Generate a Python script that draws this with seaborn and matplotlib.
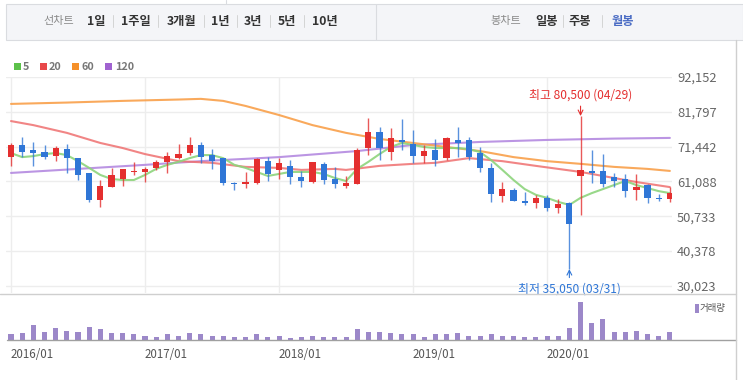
import numpy as np
import pandas as pd
import matplotlib
matplotlib.use("Agg")
import matplotlib.pyplot as plt
from matplotlib.patches import Rectangle
from matplotlib.lines import Line2D
import seaborn as sns

sns.set_style("white")
plt.rcParams["font.family"] = ["Noto Sans CJK KR", "DejaVu Sans"]

# monthly candles, 2016/01 .. 2020/12 (index 0 .. 59)
opens = [68300, 71900, 70400, 69800, 68600, 70700, 68000, 63600, 55600, 59400, 61800, 63900,
         63900, 65100, 66900, 68000, 69500, 71900, 68900, 68000, 60600, 60300, 60600, 67100,
         64500, 65700, 62400, 60900, 66300, 61800, 59700, 60300, 71000, 75800, 69800, 73400,
         72200, 68600, 70400, 68000, 73400, 73400, 69500, 65100, 56800, 58500, 55300, 54700,
         56200, 53200, 54700, 62700, 64200, 64200, 62400, 61800, 58500, 60000, 56200, 55900]
highs = [72500, 74300, 72800, 71900, 71600, 72200, 68000, 63600, 61500, 65100, 64800, 66900,
         65400, 67400, 69800, 72200, 74300, 72800, 70700, 68000, 60900, 63900, 68000, 68300,
         68000, 67400, 64200, 66900, 66900, 65400, 62700, 71000, 79900, 77200, 76900, 79600,
         76400, 71900, 73700, 74300, 77200, 74300, 71300, 66600, 60900, 59100, 57900, 57100,
         57100, 55900, 55000, 80500, 70400, 69200, 63600, 63300, 63300, 60300, 57300, 59400]
lows = [65700, 68300, 65700, 67700, 67100, 63600, 61500, 55000, 53500, 59400, 59700, 63000,
        60900, 64500, 63600, 67700, 68900, 66600, 64800, 60000, 58500, 59100, 60300, 61200,
        61800, 60300, 59400, 60600, 60300, 59100, 59100, 60300, 68900, 67400, 67400, 70400,
        66600, 66600, 65700, 67400, 68300, 67400, 63900, 55000, 55000, 55300, 54100, 53200,
        52300, 51700, 35050, 51100, 60600, 59400, 59400, 56500, 55600, 54700, 55300, 55000]
closes = [71900, 69800, 69500, 68300, 71000, 68000, 63000, 55600, 59700, 63000, 64800, 64200,
          64800, 66900, 68600, 69200, 71900, 68300, 67100, 60600, 60300, 60900, 67700, 63300,
          66600, 62400, 61200, 66900, 61500, 60300, 60600, 70400, 75800, 71000, 74000, 72800,
          68600, 70100, 67400, 74000, 72500, 68300, 65100, 57300, 58800, 55300, 54700, 56200,
          53200, 54400, 48400, 64500, 63600, 60300, 61200, 58200, 59400, 56200, 55900, 57600]
volume = [57, 67, 150, 83, 117, 93, 83, 127, 107, 67, 73, 57,
          43, 33, 57, 43, 67, 57, 43, 43, 33, 33, 57, 33,
          43, 23, 33, 43, 33, 33, 33, 107, 83, 77, 67, 57,
          57, 33, 57, 57, 67, 43, 43, 57, 43, 43, 33, 33,
          43, 43, 117, 377, 167, 207, 83, 83, 93, 57, 43, 83]

# moving averages
ma5 = [69500, 68300, 68600, 69200, 69500, 68900, 67100, 65100, 63000, 61800, 61500, 61500,
       63000, 64800, 66000, 66900, 68000, 68900, 68900, 68000, 66000, 65100, 63900, 62700,
       63300, 63900, 63900, 63900, 63300, 62100, 61200, 64800, 66900, 69200, 71300, 72500,
       71900, 71300, 71000, 71000, 71000, 70700, 69800, 67400, 64500, 61500, 58800, 57100,
       56200, 55000, 54100, 56200, 57600, 58800, 60000, 61200, 60000, 59100, 58200, 57600]
ma20_idx = [0, 2, 5, 8, 10, 12, 15, 18, 21, 24, 26, 29, 30, 33, 36, 38, 41, 44, 47, 51, 56, 59]
ma20 = [79000, 77800, 75500, 72500, 71000, 69200, 67100, 66600, 65400, 65100, 64500, 64800,
        64500, 65700, 66300, 66600, 68000, 67100, 65700, 63900, 60900, 59400]
ma60_idx = [0, 5, 10, 15, 17, 19, 21, 24, 27, 30, 33, 36, 39, 42, 45, 48, 51, 54, 57, 59]
ma60 = [84100, 84500, 85000, 85400, 85600, 85000, 83500, 80800, 77800, 75500,
        73700, 72500, 71300, 70100, 68300, 67100, 66300, 65400, 64800, 64200]
ma120_idx = [0, 12, 17, 24, 31, 36, 42, 48, 54, 59]
ma120 = [63600, 66000, 67100, 68300, 70100, 71900, 72800, 73400, 73800, 74000]

price_ticks = [30023, 40378, 50733, 61088, 71442, 81797, 92152]
year_pos = [0, 12, 24, 36, 48]
year_labels = ["2016/01", "2017/01", "2018/01", "2019/01", "2020/01"]

RED = "#e42f2f"
BLUE = "#2f76d6"
VOL = "#9c88c9"
GRID = "#ededed"
LINE = "#cfcfcf"

W, H = 743, 380
def fx(x): return x / W
def fy(y): return 1 - y / H

fig = plt.figure(figsize=(W / 100, H / 100), dpi=100)
fig.patch.set_facecolor("white")

# ---- top tab bar ----
fig.add_artist(Rectangle((fx(6), fy(40)), (743 - 6) / W, 36 / H, transform=fig.transFigure,
                         fc="#f4f5f8", ec="#dadce0", lw=0.8))
fig.add_artist(Line2D([fx(376), fx(376)], [fy(4), fy(40)], transform=fig.transFigure, color="#dadce0", lw=0.8))
fig.add_artist(Line2D([fx(226), fx(226)], [fy(0), fy(4)], transform=fig.transFigure, color="#dadce0", lw=0.8))

tabs = [("선차트", 58.5, "#8a8a8a", "normal", 8), ("1일", 96.5, "#333333", "bold", 8.8),
        ("1주일", 135.5, "#333333", "bold", 8.8), ("3개월", 181.5, "#333333", "bold", 8.8),
        ("1년", 220.5, "#333333", "bold", 8.8), ("3년", 253, "#333333", "bold", 8.8),
        ("5년", 287, "#333333", "bold", 8.8), ("10년", 325, "#333333", "bold", 8.8),
        ("봉차트", 505.5, "#8a8a8a", "normal", 8), ("일봉", 546.5, "#333333", "bold", 8.8),
        ("주봉", 580, "#333333", "bold", 8.8), ("월봉", 622.5, "#4a6cc4", "bold", 8.8)]
for txt, x, c, w, s in tabs:
    fig.text(fx(x), fy(21), txt, ha="center", va="center", fontsize=s, color=c, fontweight=w)
for x in [113, 158, 204, 237, 270, 304, 563, 602]:
    fig.add_artist(Line2D([fx(x), fx(x)], [fy(15), fy(27)], transform=fig.transFigure, color="#d4d4d4", lw=0.7))

# ---- MA legend ----
legend = [("5", 14, 23, "#5cc14a"), ("20", 40, 49, "#e8484a"),
          ("60", 72, 82, "#f5902a"), ("120", 105, 115, "#a062d0")]
for txt, xs, xt, c in legend:
    fig.add_artist(Rectangle((fx(xs), fy(70)), 7 / W, 7 / H, transform=fig.transFigure, fc=c, ec="none"))
    fig.text(fx(xt), fy(66.5), txt, ha="left", va="center", fontsize=7.8, color="#777777", fontweight="bold")

# ---- price panel ----
ax = fig.add_axes([fx(6), fy(293), (672 - 6) / W, (293 - 76.8) / H])
xlim = (-0.448, 59.19)

df = pd.DataFrame({"open": opens, "high": highs, "low": lows, "close": closes, "volume": volume})
df["i"] = np.arange(len(df))
df["color"] = np.where(df["close"] >= df["open"], RED, BLUE)
body_lo = df[["open", "close"]].min(axis=1)
body_h = (df["close"] - df["open"]).abs().clip(lower=380)

sns.lineplot(x=ma120_idx, y=ma120, ax=ax, color="#b48ae0", lw=1.5, alpha=0.9, zorder=2)
sns.lineplot(x=ma60_idx, y=ma60, ax=ax, color="#f9a04a", lw=1.5, alpha=0.9, zorder=2)
sns.lineplot(x=ma20_idx, y=ma20, ax=ax, color="#ef7070", lw=1.5, alpha=0.85, zorder=2)
sns.lineplot(x=df["i"], y=ma5, ax=ax, color="#8dd47c", lw=1.5, alpha=0.9, zorder=2)

ax.vlines(df["i"], df["low"], df["high"], colors=df["color"], lw=1.0, alpha=0.8, zorder=3)
ax.bar(df["i"], body_h, bottom=body_lo, width=0.56, color=df["color"], lw=0, zorder=4)

ax.set_xlim(*xlim)
ax.set_ylim(27944, 92152)
ax.set_xticks(year_pos)
ax.set_xticklabels([])
ax.set_yticks(price_ticks)
ax.set_yticklabels([f"{t:,}" for t in price_ticks])
ax.yaxis.tick_right()
ax.tick_params(axis="y", length=0, pad=3.6, labelsize=9.3, labelcolor="#666666")
ax.tick_params(axis="x", length=0)
ax.grid(True, color=GRID, lw=1.0)
ax.set_axisbelow(True)
for s in ax.spines.values():
    s.set_visible(False)
ax.set_xlabel("")
ax.set_ylabel("")

# high / low marks
hi_i, lo_i = 51, 50
ax.annotate("최고 80,500 (04/29)", xy=(hi_i, highs[hi_i]), xytext=(0, 10.5), textcoords="offset points",
            ha="center", va="bottom", fontsize=8.6, color=RED,
            arrowprops=dict(arrowstyle="->", color=RED, lw=0.8, shrinkA=1, shrinkB=0))
ax.annotate("최저 35,050 (03/31)", xy=(lo_i, lows[lo_i]), xytext=(0, -9.5), textcoords="offset points",
            ha="center", va="top", fontsize=8.6, color=BLUE,
            arrowprops=dict(arrowstyle="->", color=BLUE, lw=0.8, shrinkA=1, shrinkB=0))

# ---- volume panel ----
ax2 = fig.add_axes([fx(6), fy(340), (672 - 6) / W, 44 / H])
ax2.bar(df["i"], df["volume"], width=0.45, color=VOL, lw=0)
ax2.set_xlim(*xlim)
ax2.set_ylim(0, 440)
ax2.set_yticks([])
ax2.set_xticks(year_pos)
ax2.set_xticklabels(year_labels, ha="left")
ax2.tick_params(axis="x", length=3, width=0.8, color="#999999", pad=2.5, labelsize=8.3, labelcolor="#555555")
for s in ax2.spines.values():
    s.set_visible(False)

fig.add_artist(Rectangle((fx(695), fy(313)), 3.5 / W, 9 / H, transform=fig.transFigure, fc=VOL, ec="none"))
fig.text(fx(700), fy(309), "거래량", ha="left", va="center", fontsize=6.8, color="#555555")

# frame lines
fig.add_artist(Line2D([fx(0), fx(736)], [fy(294), fy(294)], transform=fig.transFigure, color=LINE, lw=1))
fig.add_artist(Line2D([fx(7), fx(736)], [fy(340), fy(340)], transform=fig.transFigure, color="#a0a0a0", lw=1))
fig.add_artist(Line2D([fx(736), fx(736)], [fy(40), fy(380)], transform=fig.transFigure, color=LINE, lw=1))

fig.savefig("out.png", dpi=100)
